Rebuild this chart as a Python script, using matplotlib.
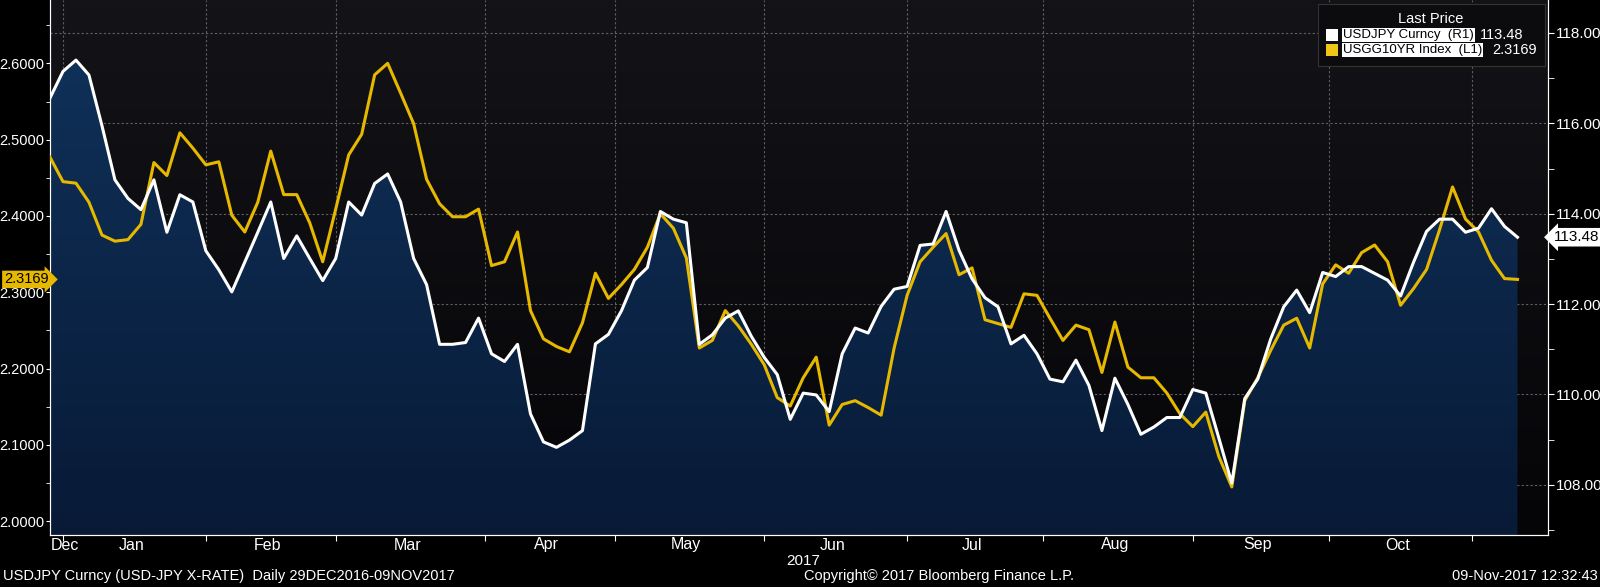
import numpy as np
import pandas as pd
import matplotlib
matplotlib.use("Agg")
import matplotlib.pyplot as plt
from matplotlib.patches import Rectangle

plt.rcParams["font.family"] = ["Liberation Sans", "DejaVu Sans"]

# ---- data (every 2nd business day from 29-Dec-2016) ----
usdjpy = [116.56,117.15,117.40,117.07,115.95,114.75,114.34,114.09,114.75,113.59,114.42,114.26,113.18,112.76,
          112.27,112.93,113.59,114.26,113.01,113.51,113.01,112.52,113.01,114.26,113.97,114.67,114.88,114.26,113.01,
          112.43,111.11,111.11,111.15,111.69,110.90,110.73,111.11,109.57,108.95,108.83,108.99,109.20,111.12,111.33,
          111.85,112.53,112.81,114.05,113.88,113.80,111.11,111.32,111.69,111.85,111.29,110.82,110.44,109.45,110.03,109.99,
          109.62,110.90,111.47,111.36,111.95,112.33,112.39,113.30,113.33,114.05,113.19,112.56,112.14,111.94,111.12,
          111.31,110.90,110.34,110.28,110.76,110.20,109.20,110.36,109.78,109.12,109.28,109.49,109.49,110.11,110.03,109.04,
          108.04,109.91,110.34,111.23,111.94,112.31,111.81,112.70,112.61,112.83,112.83,112.68,112.53,112.18,112.93,
          113.61,113.88,113.88,113.59,113.68,114.11,113.72,113.48]
usgg10 = [2.477,2.445,2.443,2.418,2.375,2.367,2.369,2.389,2.470,2.453,2.509,2.489,2.467,2.471,2.401,2.379,2.418,
          2.485,2.428,2.428,2.391,2.340,2.409,2.480,2.507,2.585,2.600,2.561,2.521,
          2.448,2.416,2.399,2.399,2.409,2.335,2.340,2.379,2.276,2.239,2.229,2.222,2.260,2.325,2.292,2.310,2.330,2.359,
          2.403,2.384,2.345,2.227,2.237,2.276,2.256,2.232,2.205,2.162,2.151,2.188,2.215,
          2.126,2.153,2.158,2.149,2.139,2.227,2.296,2.340,2.359,2.377,2.323,2.332,2.264,2.259,2.254,2.298,2.296,2.266,
          2.237,2.257,2.251,2.195,2.261,2.202,2.188,2.188,2.168,2.141,2.124,2.143,2.085,
          2.045,2.158,2.188,2.224,2.257,2.266,2.227,2.311,2.336,2.325,2.352,2.362,2.340,2.283,2.305,2.330,2.382,2.438,
          2.396,2.379,2.342,2.318,2.3169]
months = ["Dec","Jan","Feb","Mar","Apr","May","Jun","Jul","Aug","Sep","Oct"]
left_ticks = [2.0, 2.1, 2.2, 2.3, 2.4, 2.5, 2.6]
right_ticks = [108, 110, 112, 114, 116, 118]

alldays = pd.bdate_range("2016-12-29", periods=232)
n = len(usdjpy)
xpos = np.arange(n) * 2

W, H = 1600, 587
fig = plt.figure(figsize=(16, 5.87), dpi=100)
fig.patch.set_facecolor("black")
ax = fig.add_axes([50/W, 52/H, 1498/W, 535/H])
ax.set_facecolor("#0b0b0f")
XMAX = 230.7
grad = np.linspace(0, 1, 256).reshape(-1, 1)
ax.imshow(grad, extent=[0, XMAX, 106.89, 118.73], aspect="auto",
          cmap=matplotlib.colors.LinearSegmentedColormap.from_list("bg", ["#141418", "#050508"]),
          origin="upper", zorder=0)
ax.set_xlim(0, XMAX)
ax.set_ylim(106.89, 118.73)
poly = ax.fill_between(xpos, usdjpy, 106.89, color="none", zorder=1)
im = ax.imshow(grad, extent=[0, XMAX, 106.89, 118.73], aspect="auto",
               cmap=matplotlib.colors.LinearSegmentedColormap.from_list("nv", ["#10335c", "#081a36"]),
               origin="upper", zorder=1)
im.set_clip_path(poly.get_paths()[0], transform=ax.transData)

ax2 = ax.twinx()
ax2.set_ylim(1.982, 2.683)
ax2.plot(xpos, usgg10, color="#e6b800", lw=2.2, zorder=3)
ax3 = ax.twinx()
ax3.set_ylim(106.89, 118.73)
ax3.plot(xpos, usdjpy, color="white", lw=2.2, zorder=4)
ax3.axis("off")

month_starts = [i for i in range(1, len(alldays)) if alldays[i].month != alldays[i-1].month]
ax.set_xticks(month_starts)
ax.set_xticklabels([])
ax.tick_params(axis="x", colors="white", length=4, direction="out")
mids = [2.3]
for m in range(1, 11):
    idx = [i for i, d in enumerate(alldays) if d.year == 2017 and d.month == m]
    mids.append(np.mean(idx))
tr = matplotlib.transforms.blended_transform_factory(ax.transData, fig.transFigure)
for mx, lab in zip(mids, months):
    ax.text(mx, 1 - 545/H, lab, transform=tr, ha="center", va="center", color="white", fontsize=11.5)
for ms in month_starts:
    ax.axvline(ms, color="#606060", ls=(0, (2, 2)), lw=0.8, zorder=0.5)

ax.yaxis.tick_right()
ax.set_yticks(right_ticks)
ax.set_yticks([107, 109, 111, 113, 115, 117], minor=True)
ax.set_yticklabels([f"{v:.2f}" for v in right_ticks], color="white", fontsize=11)
ax.tick_params(axis="y", which="both", colors="white", direction="out", length=4, pad=2)
for t in right_ticks:
    ax.axhline(t, color="#606060", ls=(0, (2, 2)), lw=0.8, zorder=0.5)

ax2.yaxis.tick_left()
ax2.set_yticks(left_ticks)
ax2.set_yticks([2.05, 2.15, 2.25, 2.35, 2.45, 2.55, 2.65], minor=True)
ax2.set_yticklabels([f"{v:.4f}" for v in left_ticks], color="white", fontsize=10.5)
ax2.tick_params(axis="y", which="both", colors="white", direction="out", length=3, pad=1)

for a in (ax, ax2):
    for s in a.spines.values():
        s.set_color("white")
    a.spines["top"].set_visible(False)

ax2.text(-0.001, usgg10[-1], f"{usgg10[-1]:.4f}", transform=ax2.get_yaxis_transform(),
         ha="right", va="center", fontsize=10.5, color="black",
         bbox=dict(boxstyle="rarrow,pad=0.12", fc="#e6b800", ec="none"), zorder=10)
ax.text(1.004, usdjpy[-1], f"{usdjpy[-1]:.2f}", transform=ax.get_yaxis_transform(),
        ha="left", va="center", fontsize=11, color="black",
        bbox=dict(boxstyle="larrow,pad=0.15", fc="white", ec="none"), zorder=10)

fig.patches.append(Rectangle((1318/W, 1-66/H), 227/W, 62/H, transform=fig.transFigure,
                             fc="#0c0c0e", ec="#333333", lw=0.8, zorder=5))
fig.text(1431/W, 1-19/H, "Last Price", ha="center", va="center", color="white", fontsize=10.5, zorder=6)
rows = [("USDJPY Curncy  (R1)", f"{usdjpy[-1]:.2f}", "white", 35, 1523),
        ("USGG10YR Index  (L1)", f"{usgg10[-1]:.4f}", "#f0c419", 50, 1537)]
for lab, val, col, yy, xr in rows:
    fig.patches.append(Rectangle((1326/W, 1-(yy+6)/H), 12/W, 12/H, transform=fig.transFigure,
                                 fc=col, ec="none", zorder=6))
    fig.text(1343/W, 1-yy/H, lab, ha="left", va="center", color="black", fontsize=9.5, zorder=7,
             bbox=dict(boxstyle="square,pad=0.08", fc="white", ec="none"))
    fig.text(xr/W, 1-yy/H, val, ha="right", va="center", color="white", fontsize=10.5, zorder=7)

fig.text(3/W, 1-576/H, "USDJPY Curncy (USD-JPY X-RATE)  Daily 29DEC2016-09NOV2017",
         color="white", fontsize=10.5, va="center", ha="left")
fig.text(803/W, 1-561/H, "2017", color="white", fontsize=11, va="center", ha="center")
fig.text(804/W, 1-576/H, "Copyright\u00a9 2017 Bloomberg Finance L.P.", color="white", fontsize=10.5,
         va="center", ha="left")
fig.text(1598/W, 1-576/H, "09-Nov-2017 12:32:43", color="white", fontsize=10.5, va="center", ha="right")

fig.savefig("out.png", dpi=100, facecolor="black")
